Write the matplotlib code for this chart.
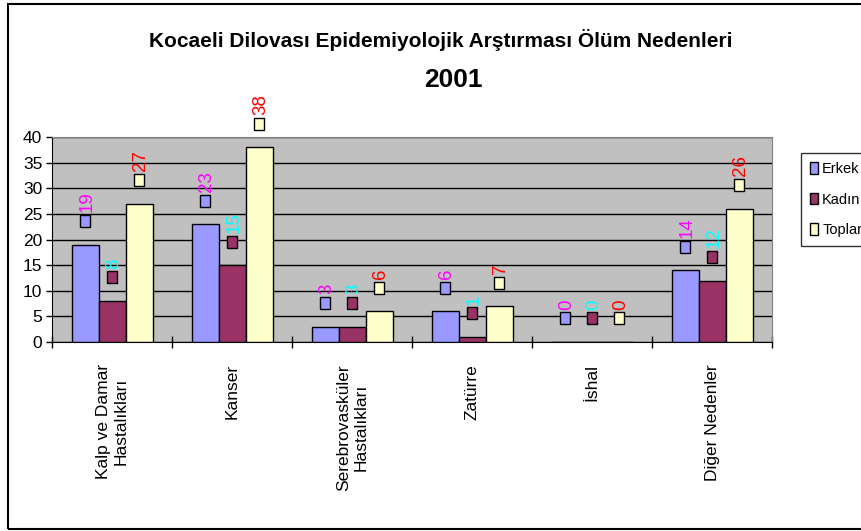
import numpy as np
import matplotlib
matplotlib.use('Agg')
import matplotlib.pyplot as plt
from matplotlib.patches import Rectangle

plt.rcParams['font.family'] = ['Liberation Sans', 'DejaVu Sans']

categories = ['Kalp ve Damar\nHastalıkları', 'Kanser', 'Serebrovasküler\nHastalıkları',
              'Zatürre', 'İshal', 'Diğer Nedenler']
series = ['Erkek', 'Kadın', 'Toplam']
erkek = [19, 23, 3, 6, 0, 14]
kadin = [8, 15, 3, 1, 0, 12]
toplam = [27, 38, 6, 7, 0, 26]

bar_colors = ['#9999FF', '#993366', '#FFFFCC']
label_colors = ['#FF00FF', '#00FFFF', '#FF0000']

W, H = 861, 531
fig = plt.figure(figsize=(W/100, H/100), dpi=100)

# outer chart frame
fig.patches.append(Rectangle((8/W, 2/H), 1.0, (529-4)/H, transform=fig.transFigure,
                             fill=False, edgecolor='black', linewidth=1.5))

# plot area: x 52..772, y 137..342 (pixels from top)
ax = fig.add_axes([52/W, 1-342/H, 720/W, 205/H])
ax.set_facecolor('#C0C0C0')
for s in ['top', 'right']:
    ax.spines[s].set_color('#808080')
for s in ['left', 'bottom']:
    ax.spines[s].set_color('black')

x = np.arange(len(categories))
bw = 27/120
data = [erkek, kadin, toplam]
rect_marker = [(-0.75, -1), (0.75, -1), (0.75, 1), (-0.75, 1), (-0.75, -1)]
for i, (vals, col, lcol) in enumerate(zip(data, bar_colors, label_colors)):
    xs = x + (i-1)*bw
    ax.bar(xs, vals, width=bw, color=col, edgecolor='black', linewidth=1, zorder=3, label=series[i])
    for xi, v in zip(xs, vals):
        ym = v + 4.6
        ax.scatter([xi], [ym], marker=rect_marker, s=75, color=col, edgecolors='black',
                   linewidths=1, zorder=5, clip_on=False)
        ax.text(xi + 0.015, ym + 1.7, str(v), rotation=90, ha='center', va='bottom',
                color=lcol, fontsize=13.5, zorder=6, clip_on=False)

ax.set_xlim(-0.5, 5.5)
ax.set_ylim(0, 40)
ax.set_yticks(np.arange(0, 41, 5))
ax.yaxis.grid(True, color='black', linewidth=1, zorder=1)
ax.set_axisbelow(True)
ax.set_xticks(np.arange(-0.5, 6, 1))
ax.set_xticklabels([])
ax.tick_params(axis='x', direction='inout', length=8, width=1)
ax.tick_params(axis='y', direction='out', length=4, width=1, labelsize=12.5, pad=3)
for xi, c in zip(x, categories):
    ax.text(xi, -4.3, c, rotation=90, ha='center', va='top', fontsize=12.5,
            multialignment='center')

fig.text(441/W, 1-40/H, 'Kocaeli Dilovası Epidemiyolojik Arştırması Ölüm Nedenleri',
         ha='center', va='center', fontsize=15, fontweight='bold')
fig.text(453/W, 1-80/H, '2001', ha='center', va='center', fontsize=19, fontweight='bold')

handles, labels = ax.get_legend_handles_labels()
leg = fig.legend(handles, labels, loc='upper left', bbox_to_anchor=(801/W, 1-153/H),
                 frameon=True, fancybox=False, edgecolor='black', fontsize=10.5,
                 handlelength=0.55, handleheight=0.85, handletextpad=0.3,
                 labelspacing=1.15, borderpad=0.6, borderaxespad=0)
leg.get_frame().set_linewidth(1)

fig.savefig('out.png', dpi=100)
